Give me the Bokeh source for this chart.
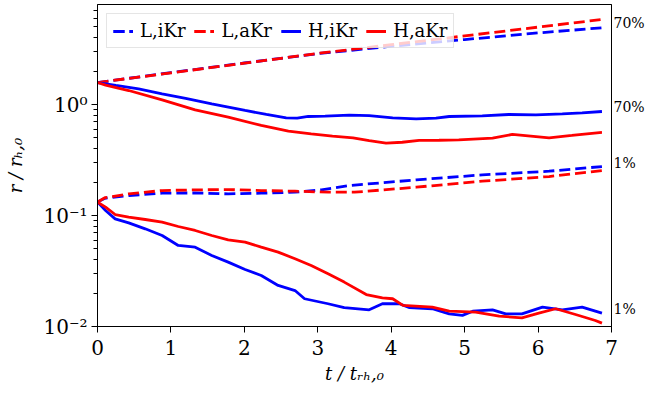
import numpy as np
from bokeh.plotting import figure
from bokeh.models import FixedTicker, LogAxis, Legend, LegendItem
from bokeh.embed import file_html
from bokeh.resources import INLINE

FONT = "DejaVu Serif"
BLUE = "#0000ff"
RED = "#ff0000"

series_labels = ["L,iKr", "L,aKr", "H,iKr", "H,aKr"]

# Radii as log10(r / r_h,0) against t / t_rh,0, for the 70% and 1% shells.
t_l_ikr_70 = [0, 1, 2, 3, 4, 5, 6, 6.87]
lg_l_ikr_70 = [0.198, 0.287, 0.374, 0.458, 0.525, 0.585, 0.645, 0.691]
t_l_ikr_1 = [0, 0.1, 0.425, 0.88, 1.33, 1.78, 2.23, 2.69, 3.05, 3.43, 4.34, 5.24, 6.15, 6.87]
lg_l_ikr_1 = [-0.879, -0.845, -0.82, -0.799, -0.797, -0.805, -0.799, -0.79, -0.769, -0.73,
              -0.679, -0.634, -0.601, -0.559]

t_l_akr_70 = [0, 1, 2, 3, 4, 5, 6, 6.87]
lg_l_akr_70 = [0.198, 0.285, 0.372, 0.46, 0.539, 0.618, 0.697, 0.766]
t_l_akr_1 = [0, 0.1, 0.425, 0.88, 1.33, 1.78, 2.23, 2.69, 3.14, 3.5, 4.34, 5.24, 6.15, 6.87]
lg_l_akr_1 = [-0.879, -0.84, -0.805, -0.775, -0.769, -0.766, -0.775, -0.781, -0.79, -0.79,
              -0.745, -0.691, -0.649, -0.595]

t_h_ikr_70 = [0, 0.25, 0.56, 0.88, 1.2, 1.556, 1.8, 2.01, 2.3, 2.57, 2.72, 2.87, 3.1, 3.43,
              3.7, 4.02, 4.34, 4.61, 4.79, 5.24, 5.6, 5.97, 6.33, 6.6, 6.87]
lg_h_ikr_70 = [0.198, 0.172, 0.14, 0.096, 0.055, 0.006, -0.025, -0.054, -0.09, -0.12, -0.123,
               -0.108, -0.105, -0.095, -0.1, -0.12, -0.129, -0.123, -0.108, -0.102, -0.09,
               -0.093, -0.084, -0.075, -0.063]
t_h_ikr_1 = [0, 0.11, 0.24, 0.425, 0.65, 0.88, 1.1, 1.33, 1.556, 1.78, 2.01, 2.23, 2.46, 2.69,
             2.82, 3.14, 3.36, 3.7, 3.88, 4.11, 4.25, 4.56, 4.79, 4.97, 5.11, 5.38, 5.56, 5.78,
             6.06, 6.33, 6.6, 6.87]
lg_h_ikr_1 = [-0.879, -0.955, -1.03, -1.066, -1.12, -1.18, -1.27, -1.285, -1.36, -1.42, -1.486,
              -1.54, -1.63, -1.676, -1.75, -1.795, -1.83, -1.85, -1.795, -1.795, -1.83, -1.84,
              -1.886, -1.9, -1.862, -1.85, -1.886, -1.886, -1.826, -1.85, -1.826, -1.88]

t_h_akr_70 = [0, 0.11, 0.425, 0.88, 1.33, 1.78, 2.23, 2.6, 2.91, 3.2, 3.48, 3.7, 3.93, 4.15,
              4.38, 4.65, 4.92, 5.38, 5.65, 5.9, 6.15, 6.46, 6.7, 6.87]
lg_h_akr_70 = [0.198, 0.175, 0.126, 0.042, -0.048, -0.114, -0.189, -0.24, -0.264, -0.285,
               -0.3, -0.325, -0.348, -0.34, -0.324, -0.322, -0.318, -0.303, -0.27, -0.285,
               -0.3, -0.279, -0.262, -0.252]
t_h_akr_1 = [0, 0.11, 0.24, 0.425, 0.65, 0.88, 1.1, 1.33, 1.556, 1.78, 2.01, 2.23, 2.46, 2.69,
             2.91, 3.14, 3.36, 3.66, 3.88, 4.02, 4.16, 4.56, 4.79, 5.15, 5.47, 5.78, 6.01, 6.24,
             6.51, 6.78, 6.87]
lg_h_akr_1 = [-0.879, -0.925, -0.991, -1.015, -1.036, -1.06, -1.099, -1.135, -1.18, -1.219,
              -1.24, -1.285, -1.33, -1.39, -1.45, -1.525, -1.6, -1.712, -1.742, -1.75, -1.81,
              -1.826, -1.862, -1.871, -1.907, -1.922, -1.88, -1.84, -1.892, -1.946, -1.97]

# Shell labels along the right edge
edge_label_r = [5.37, 0.94, 0.30, 0.0145]
edge_label_text = ["70%", "70%", "1%", "1%"]

y_major = [0.01, 0.1, 1.0]
y_major_text = ["10⁻²", "10⁻¹", "10⁰"]
y_minor = [m * d for d in (0.01, 0.1, 1.0) for m in range(2, 10) if m * d < 7.96]

p = figure(width=647, height=393, y_axis_type="log", x_range=(0, 7), y_range=(0.01, 7.96),
           output_backend="svg", toolbar_location=None,
           min_border_left=97, min_border_right=34, min_border_top=4, min_border_bottom=67)
p.xgrid.visible = False
p.ygrid.visible = False
p.outline_line_color = "black"
p.outline_line_width = 1
p.background_fill_color = "white"
p.border_fill_color = "white"

styles = {
    "L,iKr": dict(color=BLUE, dash="11 5"),
    "L,aKr": dict(color=RED, dash="11 5"),
    "H,iKr": dict(color=BLUE, dash="solid"),
    "H,aKr": dict(color=RED, dash="solid"),
}
curves = {
    "L,iKr": [(t_l_ikr_70, lg_l_ikr_70), (t_l_ikr_1, lg_l_ikr_1)],
    "L,aKr": [(t_l_akr_70, lg_l_akr_70), (t_l_akr_1, lg_l_akr_1)],
    "H,iKr": [(t_h_ikr_70, lg_h_ikr_70), (t_h_ikr_1, lg_h_ikr_1)],
    "H,aKr": [(t_h_akr_70, lg_h_akr_70), (t_h_akr_1, lg_h_akr_1)],
}

items = []
for name in series_labels:
    st = styles[name]
    rends = []
    for t, lg in curves[name]:
        r = 10.0 ** np.asarray(lg)
        rends.append(p.line(t, r, line_color=st["color"], line_width=2.8,
                            line_dash=st["dash"]))
    items.append(LegendItem(label=name, renderers=rends))

legend = Legend(items=items, orientation="horizontal", location="top_left",
                label_text_font=FONT, label_text_font_size="18px",
                label_text_color="black",
                glyph_width=20, glyph_height=20, label_height=20,
                label_standoff=7, spacing=9, padding=6, margin=9,
                border_line_color="#cccccc", border_line_width=1,
                background_fill_color="white", background_fill_alpha=0.8)
p.add_layout(legend)

xa = p.xaxis[0]
xa.ticker = FixedTicker(ticks=list(range(8)))
xa.axis_label = "t / tᵣₕ,₀"
xa.axis_label_text_font = FONT
xa.axis_label_text_font_style = "italic"
xa.axis_label_text_font_size = "18px"
xa.axis_label_text_color = "black"
xa.axis_label_standoff = 5
xa.major_label_text_font = FONT
xa.major_label_text_font_size = "20px"
xa.major_label_text_color = "black"
xa.major_label_standoff = 7
xa.major_tick_out = 6
xa.major_tick_in = 0
xa.minor_tick_line_color = None
xa.axis_line_color = "black"
xa.major_tick_line_color = "black"

ya = p.yaxis[0]
ya.ticker = FixedTicker(ticks=y_major, minor_ticks=y_minor)
ya.major_label_overrides = dict(zip(y_major, y_major_text))
ya.axis_label = "r / rₕ,₀"
ya.axis_label_text_font = FONT
ya.axis_label_text_font_style = "italic"
ya.axis_label_text_font_size = "18px"
ya.axis_label_text_color = "black"
ya.axis_label_standoff = 14
ya.major_label_text_font = FONT
ya.major_label_text_font_size = "20px"
ya.major_label_text_color = "black"
ya.major_label_standoff = 4
ya.major_tick_out = 6
ya.major_tick_in = 0
ya.minor_tick_out = 4
ya.minor_tick_in = 0
ya.axis_line_color = "black"
ya.major_tick_line_color = "black"
ya.minor_tick_line_color = "black"

ra = LogAxis(ticker=FixedTicker(ticks=edge_label_r),
             major_label_overrides=dict(zip(edge_label_r, edge_label_text)),
             major_tick_line_color=None, minor_tick_line_color=None,
             major_tick_out=0, major_label_standoff=2,
             major_label_text_font=FONT, major_label_text_font_size="14px",
             major_label_text_color="black",
             axis_line_color="black")
p.add_layout(ra, "right")

open("out.html", "w").write(file_html(p, INLINE))
